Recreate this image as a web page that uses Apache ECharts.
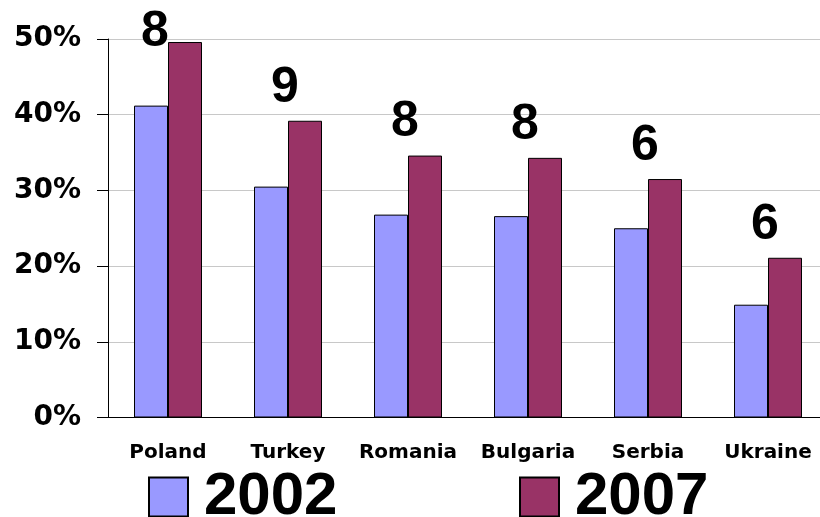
<!DOCTYPE html>
<html>
<head>
<meta charset="utf-8">
<script src="https://cdn.jsdelivr.net/npm/echarts@6/dist/echarts.min.js"></script>
<style>
  html, body { margin: 0; padding: 0; background: #fff; overflow: hidden; }
  #main { width: 828px; height: 517px; }
</style>
</head>
<body>
<div id="main"></div>
<script>
var countries = ['Poland', 'Turkey', 'Romania', 'Bulgaria', 'Serbia', 'Ukraine'];
var share2002 = [41.2, 30.5, 26.8, 26.6, 25.0, 14.9];
var share2007 = [49.6, 39.2, 34.6, 34.3, 31.5, 21.1];
var counts = [8, 9, 8, 8, 6, 6];

var axisFont = 'DejaVu Sans';
var bigFont = 'Liberation Sans';

var legendText = {
  fontFamily: bigFont,
  fontWeight: 'bold',
  fontSize: 60,
  color: '#000',
  padding: [0, 0, 8, 11]
};

var myChart = echarts.init(document.getElementById('main'));
myChart.setOption({
  animation: false,
  grid: {
    left: 108,
    right: 0,
    top: 39,
    bottom: 99.5
  },
  legend: [{
    data: ['2002'],
    left: 148,
    top: 467,
    padding: 0,
    itemWidth: 39,
    itemHeight: 39,
    icon: 'rect',
    textStyle: legendText
  }, {
    data: ['2007'],
    left: 519,
    top: 467,
    padding: 0,
    itemWidth: 39,
    itemHeight: 39,
    icon: 'rect',
    textStyle: legendText
  }],
  xAxis: {
    type: 'category',
    data: countries,
    axisLine: { lineStyle: { color: '#000', width: 1 } },
    axisTick: { length: 7, lineStyle: { color: '#000' } },
    axisLabel: {
      interval: 0,
      margin: 25,
      fontFamily: axisFont,
      fontWeight: 'bold',
      fontSize: 20,
      color: '#000'
    }
  },
  yAxis: {
    type: 'value',
    min: 0,
    max: 50,
    interval: 10,
    axisLine: { show: true, lineStyle: { color: '#000', width: 1 } },
    axisTick: { show: true, length: 11, lineStyle: { color: '#000' } },
    splitLine: { lineStyle: { color: '#c8c8c8', width: 1 } },
    axisLabel: {
      margin: 27,
      formatter: '{value}%',
      fontFamily: axisFont,
      fontWeight: 'bold',
      fontSize: 28,
      color: '#000'
    }
  },
  series: [{
    name: '2002',
    type: 'bar',
    barWidth: 34,
    barGap: '0%',
    itemStyle: { color: '#9999ff', borderColor: '#000', borderWidth: 1 },
    data: share2002
  }, {
    name: '2007',
    type: 'bar',
    barWidth: 34,
    barGap: '0%',
    itemStyle: { color: '#993366', borderColor: '#000', borderWidth: 1 },
    label: {
      show: true,
      position: 'top',
      distance: 8,
      fontFamily: bigFont,
      fontWeight: 'bold',
      fontSize: 50,
      color: '#000',
      formatter: function (p) { return counts[p.dataIndex]; }
    },
    labelLayout: function (p) {
      // shift left over the group, keep the tallest label inside the picture
      var r = p.labelRect;
      if (r.y + r.height < 57) {
        return { x: r.x + r.width / 2 - 30, y: 57, align: 'center', verticalAlign: 'bottom' };
      }
      return { dx: -20 };
    },
    data: share2007
  }]
});
</script>
</body>
</html>
